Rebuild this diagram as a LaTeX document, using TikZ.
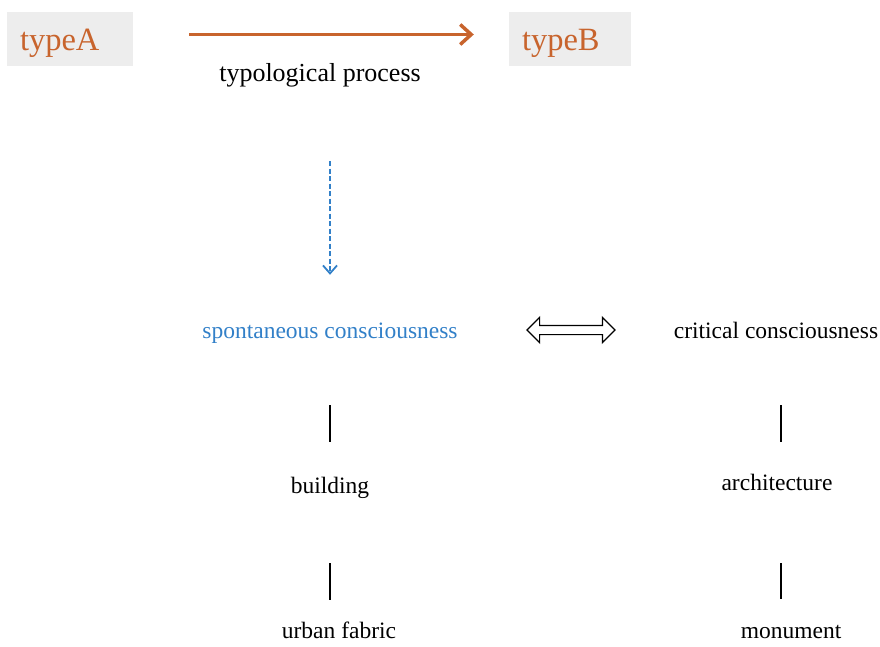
\documentclass[tikz,border=0pt]{standalone}
\usepackage{fontspec}
\setmainfont{Liberation Serif}
\usetikzlibrary{arrows.meta, shapes.arrows, calc}

\definecolor{rust}{RGB}{200,100,45}
\definecolor{skyblue}{RGB}{50,128,200}
\definecolor{boxgray}{RGB}{237,237,237}

\tikzset{
  typebox/.style={fill=boxgray, minimum height=54pt, inner xsep=13pt, inner ysep=0pt, text height=22pt, text depth=0pt,
    align=left, text=rust, font=\fontsize{32.5}{32.5}\selectfont},
  term/.style={inner sep=0pt, text height=22pt, text depth=5pt, font=\fontsize{23.5}{23.5}\selectfont},
  stem/.style={line width=1.3pt, black}
}

\begin{document}
\begin{tikzpicture}[x=1pt, y=-1pt]
    \useasboundingbox (0,0) rectangle (880,646);

    % Typen oben mit grauem Kasten
    \node (typeA) [typebox, minimum width=126pt, text width=100pt] at (70,39) {typeA};
    \node (typeB) [typebox, minimum width=122pt, text width=96pt] at (570,39) {typeB};
    \node (process) [term, text height=24pt, text depth=6pt, font=\fontsize{26}{26}\selectfont] at (320,72) {typological process};

    % Pfeil zwischen den Typen
    \draw[-{Straight Barb[length=11pt,width=20pt]}, line width=3.5pt, rust]
        ([xshift=56pt,yshift=4.5pt]typeA.east) -- ([xshift=-35pt,yshift=4.5pt]typeB.west);

    % Bewusstsein
    \node (spont) [term, text=skyblue] at (330,330) {spontaneous consciousness};
    \node (crit) [term] at (776,330) {critical consciousness};
    \node (link) [double arrow, draw, fill=white, line width=1.2pt, inner sep=0pt, inner ysep=4pt,
        minimum height=88pt, double arrow head extend=8pt] at (571,330) {};

    % gestrichelter Pfeil nach unten
    \draw[-{Straight Barb[length=8pt,width=14pt]}, line width=1.8pt, skyblue, dash pattern=on 5pt off 2.5pt,
        shorten <=74pt, shorten >=41.5pt] (spont.north |- process.south) -- (spont.north);

    % Begriffe darunter
    \node (building) [term] at (330,485) {building};
    \node (urban) [term, text height=17pt, text depth=0pt] at (339,630) {urban fabric};
    \node (arch) [term] at (777,482) {architecture};
    \node (monument) [term, text height=17pt, text depth=0pt] at (791,630) {monument};

    % senkrechte Striche
    \draw[stem] ($(spont.south)+(0,61.5)$) -- ($(building.north)+(0,-29.5)$);
    \draw[stem] ($(building.south)+(0,64.5)$) -- ($(building.south |- urban.north)+(0,-21.5)$);
    \draw[stem] ($(crit.south)+(5,61.5)$) -- ($(arch.north)+(4,-26.5)$);
    \draw[stem] ($(arch.south)+(4,67.5)$) -- ($(arch.south |- monument.north)+(4,-22.5)$);
\end{tikzpicture}
\end{document}
